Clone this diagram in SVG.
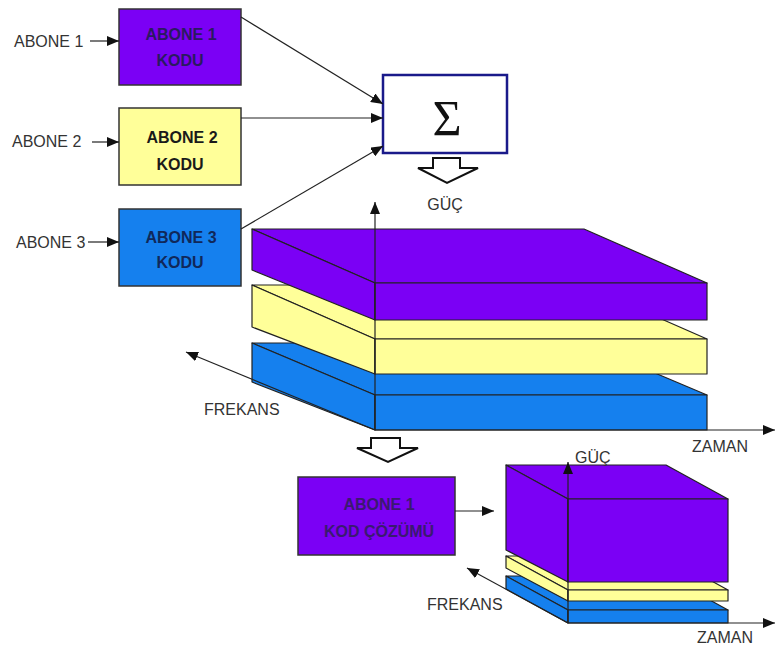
<svg xmlns="http://www.w3.org/2000/svg" width="776" height="648" viewBox="0 0 776 648">
<style>
.lbl{font-family:"Liberation Sans",Arial,sans-serif;font-size:16px;fill:#333}
.bt{font-family:"Liberation Sans",Arial,sans-serif;font-size:16px;font-weight:bold;text-anchor:middle}
.box{stroke:#333;stroke-width:1.5}
.pu{fill:#7B00F5}
.ye{fill:#FFFF99}
.bl{fill:#1580EE}
.face{stroke:#222;stroke-width:1.2;stroke-linejoin:round}
.ln{stroke:#222;stroke-width:1.2;fill:none}
.hol{fill:#fff;stroke:#111;stroke-width:2;stroke-linejoin:miter}
</style>
<defs>
<marker id="ah" viewBox="0 0 12 10" refX="12" refY="5" markerWidth="12" markerHeight="10" orient="auto" markerUnits="userSpaceOnUse">
<path d="M0,0 L12,5 L0,10 z" fill="#111"/>
</marker>
</defs>
<rect width="776" height="648" fill="#fff"/>

<g id="abone1-label"><text class="lbl" x="14" y="47">ABONE 1</text></g>
<g id="abone2-label"><text class="lbl" x="12" y="147">ABONE 2</text></g>
<g id="abone3-label"><text class="lbl" x="16" y="248">ABONE 3</text></g>

<g id="kod1"><rect class="box pu" x="119" y="9" width="122" height="76"/>
<text class="bt" x="181" y="40" fill="#2a1a60">ABONE 1</text><text class="bt" x="180" y="66" fill="#2a1a60">KODU</text></g>
<g id="kod2"><rect class="box ye" x="119" y="108" width="122" height="77"/>
<text class="bt" x="182" y="143" fill="#1a1a1a">ABONE 2</text><text class="bt" x="180" y="170" fill="#1a1a1a">KODU</text></g>
<g id="kod3"><rect class="box bl" x="119" y="209" width="122" height="77"/>
<text class="bt" x="181" y="243" fill="#10285a">ABONE 3</text><text class="bt" x="180" y="268" fill="#10285a">KODU</text></g>

<g id="sum"><rect x="383" y="75" width="124" height="78" fill="#fff" stroke="#1a1a8a" stroke-width="2.5"/>
<text x="447" y="135" font-family="'Liberation Serif','Times New Roman',serif" font-size="50" text-anchor="middle" fill="#111">Σ</text></g>
<g id="guc-top-label"><text class="lbl" x="445" y="210" text-anchor="middle">GÜÇ</text></g>

<g id="composite-signal">
<polygon class="face bl" points="252,343 584,343 707,395 375,395"/>
<polygon class="face bl" points="252,343 375,395 375,430 252,382"/>
<rect class="face bl" x="375" y="395" width="332" height="35"/>
<polygon class="face ye" points="252,285 584,285 707,339 375,339"/>
<polygon class="face ye" points="252,285 375,339 375,374 252,327"/>
<rect class="face ye" x="375" y="339" width="332" height="35"/>
<polygon class="face pu" points="252,229 584,229 707,283 375,283"/>
<polygon class="face pu" points="252,229 375,283 375,320 252,270"/>
<rect class="face pu" x="375" y="283" width="332" height="37"/>
</g>
<g id="axes-top">
<line class="ln" x1="375" y1="430" x2="375" y2="202" marker-end="url(#ah)"/>
<line class="ln" x1="375" y1="430" x2="775" y2="430" marker-end="url(#ah)"/>
<line class="ln" x1="375" y1="430" x2="186" y2="352" marker-end="url(#ah)"/>
<text class="lbl" x="204" y="415">FREKANS</text>
<text class="lbl" x="692" y="452">ZAMAN</text>
</g>

<g id="kod-cozumu"><rect class="box pu" x="298" y="477" width="157" height="78"/>
<text class="bt" x="379" y="510" fill="#3a1a70">ABONE 1</text><text class="bt" x="379" y="537" fill="#3a1a70">KOD ÇÖZÜMÜ</text></g>

<g id="decoded-signal">
<polygon class="face bl" points="506,576 666,576 728,610 568,610"/>
<polygon class="face bl" points="506,576 568,610 568,623 506,589"/>
<rect class="face bl" x="568" y="610" width="160" height="13"/>
<polygon class="face ye" points="506,556 666,556 728,590 568,590"/>
<polygon class="face ye" points="506,556 568,590 568,601 506,568"/>
<rect class="face ye" x="568" y="590" width="160" height="11"/>
<polygon class="face pu" points="506,465 666,465 728,499 568,499"/>
<polygon class="face pu" points="506,465 568,499 568,582 506,550"/>
<rect class="face pu" x="568" y="499" width="160" height="83"/>
</g>
<g id="axes-bottom">
<line class="ln" x1="568" y1="623" x2="568" y2="462" marker-end="url(#ah)"/>
<line class="ln" x1="568" y1="623" x2="775" y2="623" marker-end="url(#ah)"/>
<line class="ln" x1="568" y1="623" x2="467" y2="568" marker-end="url(#ah)"/>
<text class="lbl" x="575" y="463">GÜÇ</text>
<text class="lbl" x="427" y="610">FREKANS</text>
<text class="lbl" x="697" y="643">ZAMAN</text>
</g>

<g id="connectors">
<line class="ln" x1="90" y1="41" x2="119" y2="41" marker-end="url(#ah)"/>
<line class="ln" x1="92" y1="142" x2="119" y2="142" marker-end="url(#ah)"/>
<line class="ln" x1="88" y1="242" x2="119" y2="242" marker-end="url(#ah)"/>
<line class="ln" x1="241" y1="17" x2="383" y2="104" marker-end="url(#ah)"/>
<line class="ln" x1="241" y1="118" x2="383" y2="118" marker-end="url(#ah)"/>
<line class="ln" x1="241" y1="229" x2="383" y2="146" marker-end="url(#ah)"/>
<line class="ln" x1="455" y1="511" x2="494" y2="511" marker-end="url(#ah)"/>
<polygon class="hol" points="433,158 460,158 460,168 478,168 447,183 418,168 433,168"/>
<polygon class="hol" points="371,438 400,438 400,448 418,448 388,462 357,448 371,448"/>
</g>
</svg>
